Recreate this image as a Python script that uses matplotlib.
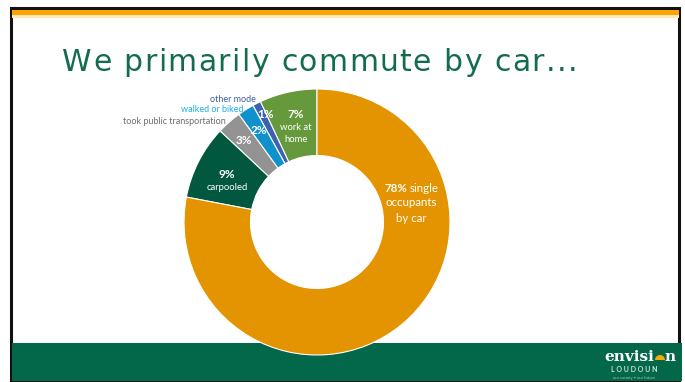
import matplotlib
matplotlib.use("Agg")
import matplotlib.pyplot as plt
from matplotlib.patches import Rectangle, Wedge

# datos del grafico (orden contrario a las agujas, desde arriba)
modos = ["work at home", "other mode", "walked or biked",
         "took public transportation", "carpooled", "single occupants by car"]
porcentajes = [7, 1, 2, 3, 9, 78]
colores = ["#66993B", "#3F5FAF", "#0F92CC", "#939393", "#02583E", "#E39400"]
titulo = "We primarily commute by car..."

W, H = 685, 382
fig = plt.figure(figsize=(W / 100, H / 100), dpi=100)
renderer = fig.canvas.get_renderer()

# fondo de la diapositiva, en pixeles
fondo = fig.add_axes([0, 0, 1, 1])
fondo.set_xlim(0, W)
fondo.set_ylim(H, 0)
fondo.axis("off")
fondo.add_patch(Rectangle((11, 8), 668, 373, facecolor="white", edgecolor="#111111", lw=2.2))
fondo.add_patch(Rectangle((12, 10), 667, 5, facecolor="#FFA300", lw=0))
fondo.add_patch(Rectangle((12, 15), 667, 3, facecolor="#FFE8B8", lw=0))
fondo.add_patch(Rectangle((12, 343), 670, 38, facecolor="#03674A", lw=0))

# titulo: letra por letra para abrirlo un poco (en la diapositiva esta estirado)
tf = dict(fontsize=21.5, family="DejaVu Sans")
def ancho(s):
    t = fondo.text(0, 0, s, **tf)
    w = t.get_window_extent(renderer).width
    t.remove()
    return w

esp = ancho("a a") - ancho("aa")
anchos = [esp if ch == " " else ancho(ch) for ch in titulo]
extra = (577 - 62 - sum(anchos)) / (len(anchos) - 1)
x = 62
for ch, a in zip(titulo, anchos):
    fondo.text(x, 71, ch, color="#146C4E", va="baseline", ha="left", **tf)
    x += a + extra

# donut
cx, cy, r = 317, 222, 133
pie_ax = fig.add_axes([(cx - r) / W, (H - cy - r) / H, 2 * r / W, 2 * r / H])
pie_ax.pie(porcentajes, colors=colores, startangle=90, counterclock=True,
           radius=1, wedgeprops=dict(width=0.5, edgecolor="white", linewidth=0.8))
pie_ax.set_xlim(-1, 1)
pie_ax.set_ylim(-1, 1)
pie_ax.set_aspect("equal")
pie_ax.axis("off")

# etiquetas encima de todo
top = fig.add_axes([0, 0, 1, 1], zorder=5)
top.set_xlim(0, W)
top.set_ylim(H, 0)
top.axis("off")
top.patch.set_alpha(0)

f = "Lato"
top.text(256, 99, "other mode", color="#3F5FAF", fontsize=6.5, family=f, ha="right", va="center")
top.text(244, 110, "walked or biked", color="#1EB3EF", fontsize=6.5, family=f, ha="right", va="center")
top.text(226, 122, "took public transportation", color="#6E6E6E", fontsize=6.5, family=f, ha="right", va="center")

blanco = dict(color="white", family=f, ha="center", va="center")
top.text(266, 115, "1%", fontsize=8.5, weight="bold", **blanco)
top.text(296, 114, "7%", fontsize=8.5, weight="bold", **blanco)
top.text(296, 128, "work at", fontsize=6.8, **blanco)
top.text(296, 140, "home", fontsize=6.8, **blanco)
top.text(259, 130, "2%", fontsize=8.5, weight="bold", **blanco)
top.text(244, 141, "3%", fontsize=8.5, weight="bold", **blanco)
top.text(227, 174, "9%", fontsize=8.5, weight="bold", **blanco)
top.text(227, 187, "carpooled", fontsize=6.8, **blanco)
top.text(396, 188, "78%", fontsize=8.3, weight="bold", **blanco)
top.text(424, 188, "single", fontsize=8.3, **blanco)
top.text(411, 203, "occupants", fontsize=8.3, **blanco)
top.text(411, 218, "by car", fontsize=8.3, **blanco)

# logo
top.text(654, 361, "envisi", fontsize=11, weight="bold", family="DejaVu Serif",
         color="white", ha="right", va="baseline")
top.text(665, 361, "n", fontsize=11, weight="bold", family="DejaVu Serif",
         color="white", ha="left", va="baseline")
top.add_patch(Wedge((660, 360), 5, 180, 360, facecolor="#F5A800", lw=0))
top.text(634, 370, "L O U D O U N", fontsize=5, weight="bold", color="#CFE3D8", family=f, ha="center", va="center")
top.text(634, 377.5, "our county • our future", fontsize=3, color="#9FC7B5", family=f, ha="center", va="center")

fig.savefig("out.png", dpi=100)
